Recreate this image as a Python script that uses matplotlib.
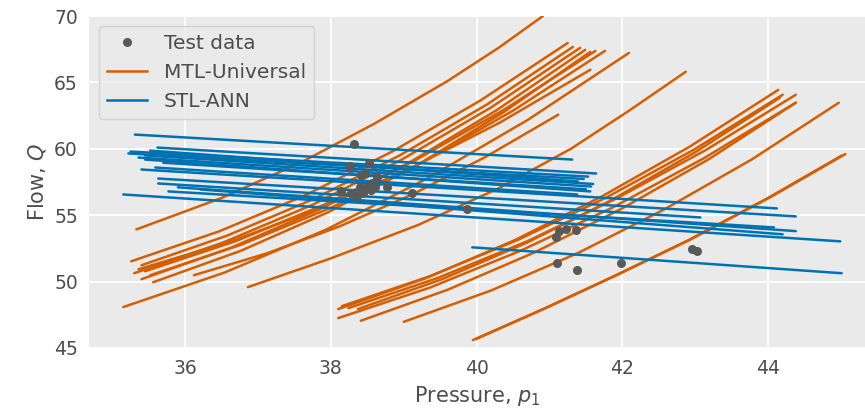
import matplotlib
matplotlib.use("Agg")
import matplotlib.pyplot as plt
from matplotlib.lines import Line2D

# ---------------- data ----------------
# MTL-Universal predictions (orange curves): x points, y points per curve
mtl_x = [
    [35.33, 36.50, 37.60, 38.60, 39.60, 40.30, 40.91],
    [35.26, 36.46, 37.66, 38.85, 40.05, 41.25],
    [35.40, 36.58, 37.77, 38.95, 40.14, 41.32],
    [35.30, 36.52, 37.75, 38.97, 40.20, 41.42],
    [35.40, 36.62, 37.84, 39.05, 40.27, 41.49],
    [35.56, 36.76, 37.96, 39.16, 40.36, 41.56],
    [35.45, 36.69, 37.92, 39.16, 40.39, 41.63],
    [35.52, 36.77, 38.02, 39.26, 40.51, 41.76],
    [35.36, 36.60, 37.84, 39.08, 40.32, 41.56],
    [36.12, 37.12, 38.12, 39.12, 40.12, 41.12],
    [35.15, 36.54, 37.93, 39.31, 40.70, 42.09],
    [36.86, 38.00, 39.20, 40.30, 41.30, 42.10, 42.87],
    [38.10, 39.31, 40.52, 41.72, 42.93, 44.14],
    [38.15, 39.36, 40.57, 41.78, 42.99, 44.20],
    [38.24, 39.47, 40.70, 41.92, 43.15, 44.38],
    [38.37, 39.53, 40.69, 41.84, 43.00, 44.16],
    [38.10, 39.36, 40.61, 41.87, 43.12, 44.38],
    [38.41, 39.60, 40.80, 41.99, 43.19, 44.38],
    [39.00, 40.19, 41.39, 42.58, 43.78, 44.97],
    [39.95, 40.90, 41.90, 42.90, 44.00, 45.01],
    [39.99, 40.94, 41.94, 42.94, 44.04, 45.06],
]
mtl_y = [
    [53.93, 56.30, 59.00, 61.90, 65.10, 67.60, 70.00],
    [51.53, 53.77, 56.53, 59.82, 63.63, 67.97],
    [51.23, 53.47, 56.23, 59.52, 63.33, 67.67],
    [50.63, 52.94, 55.79, 59.18, 63.12, 67.60],
    [50.18, 52.53, 55.43, 58.88, 62.89, 67.45],
    [49.95, 52.31, 55.22, 58.69, 62.72, 67.30],
    [50.78, 53.04, 55.82, 59.14, 62.99, 67.37],
    [50.48, 52.78, 55.61, 58.99, 62.91, 67.37],
    [50.93, 52.97, 55.50, 58.50, 61.98, 65.95],
    [50.48, 52.12, 54.16, 56.57, 59.38, 62.57],
    [48.08, 50.68, 53.90, 57.73, 62.17, 67.22],
    [49.58, 51.75, 54.27, 57.02, 60.02, 62.90, 65.80],
    [47.93, 50.27, 53.11, 56.42, 60.18, 64.44],
    [48.15, 50.41, 53.15, 56.33, 59.96, 64.07],
    [48.00, 50.28, 53.05, 56.26, 59.92, 64.07],
    [47.93, 50.19, 52.93, 56.11, 59.74, 63.84],
    [47.25, 49.55, 52.34, 55.59, 59.29, 63.47],
    [47.05, 49.38, 52.21, 55.49, 59.23, 63.47],
    [46.97, 49.31, 52.15, 55.45, 59.21, 63.47],
    [45.60, 47.90, 50.45, 53.10, 56.30, 59.49],
    [45.67, 47.98, 50.53, 53.18, 56.38, 59.60],
]

# STL-ANN predictions (blue lines): start/end
stl_x0 = [35.31, 35.62, 35.25, 35.52, 35.36, 35.45, 35.59, 35.22, 35.45, 35.70,
          35.40, 35.63, 35.63, 35.77, 35.15, 36.21, 35.90, 39.94]
stl_y0 = [61.07, 60.09, 59.79, 59.86, 59.34, 59.19, 58.59, 59.65, 59.50, 58.95,
          58.44, 57.76, 57.39, 56.79, 56.56, 56.94, 57.10, 52.58]
stl_x1 = [41.31, 41.64, 41.53, 41.39, 41.57, 41.56, 41.38, 41.47, 41.60, 41.50,
          44.12, 44.38, 43.07, 44.08, 44.99, 44.20, 44.38, 45.01]
stl_y1 = [59.19, 58.14, 57.91, 57.54, 57.16, 56.79, 56.56, 57.73, 57.35, 56.95,
          55.51, 54.91, 54.83, 54.08, 53.03, 53.56, 53.80, 50.63]

# Test data
test_p = [38.32, 38.26, 38.52, 38.41, 38.63, 38.57, 38.51, 38.61, 38.40, 38.14,
          38.28, 38.36, 38.44, 38.77, 39.11, 39.87, 41.09, 41.13, 41.23, 41.36,
          41.10, 41.38, 41.98, 42.96, 43.02, 38.47, 38.55]
test_q = [60.39, 58.74, 58.96, 57.99, 57.91, 57.46, 57.16, 57.09, 57.16, 56.79,
          56.64, 56.41, 56.64, 57.09, 56.64, 55.43, 53.33, 53.78, 53.93, 53.86,
          51.38, 50.85, 51.38, 52.43, 52.28, 58.20, 56.90]

ORANGE = "#d55e00"
BLUE = "#0072b2"
DOT = "#595959"
TXT = "#4d4d4d"
LW = 1.8

# ---------------- plot ----------------
fig = plt.figure(figsize=(8.65, 4.19), dpi=100)
ax = fig.add_axes([0.1029, 0.1695, 0.8971, 0.7923])
ax.set_facecolor("#eaeaea")
for s in ax.spines.values():
    s.set_visible(False)
ax.grid(True, color="white", lw=1.3)
ax.set_axisbelow(True)

for xs, ys in zip(mtl_x, mtl_y):
    ax.plot(xs, ys, color=ORANGE, lw=LW, solid_capstyle="round",
            solid_joinstyle="round", zorder=2)
for x0, y0, x1, y1 in zip(stl_x0, stl_y0, stl_x1, stl_y1):
    ax.plot([x0, x1], [y0, y1], color=BLUE, lw=LW, solid_capstyle="round", zorder=3)
ax.plot(test_p, test_q, "o", color=DOT, ms=6.5, mec="none", zorder=4)

ax.set_xlim(34.68, 45.33)
ax.set_ylim(45, 70)
ax.set_xticks([36, 38, 40, 42, 44])
ax.set_yticks([45, 50, 55, 60, 65, 70])
ax.tick_params(length=0, labelsize=13.5, labelcolor=TXT, pad=8)
ax.set_xlabel("Pressure, $p_1$", fontsize=15, color=TXT)
ax.set_ylabel("Flow, $Q$", fontsize=15, color=TXT)

handles = [
    Line2D([], [], ls="none", marker="o", color=DOT, ms=6.5, mec="none"),
    Line2D([], [], color=ORANGE, lw=LW),
    Line2D([], [], color=BLUE, lw=LW),
]
leg = ax.legend(handles, ["Test data", "MTL-Universal", "STL-ANN"], loc="upper left",
                fontsize=14.5, frameon=True, fancybox=True, framealpha=0.8,
                facecolor="#eaeaea", edgecolor="#cccccc", borderaxespad=0.5)
for t in leg.get_texts():
    t.set_color(TXT)

fig.savefig("out.png", dpi=100)
